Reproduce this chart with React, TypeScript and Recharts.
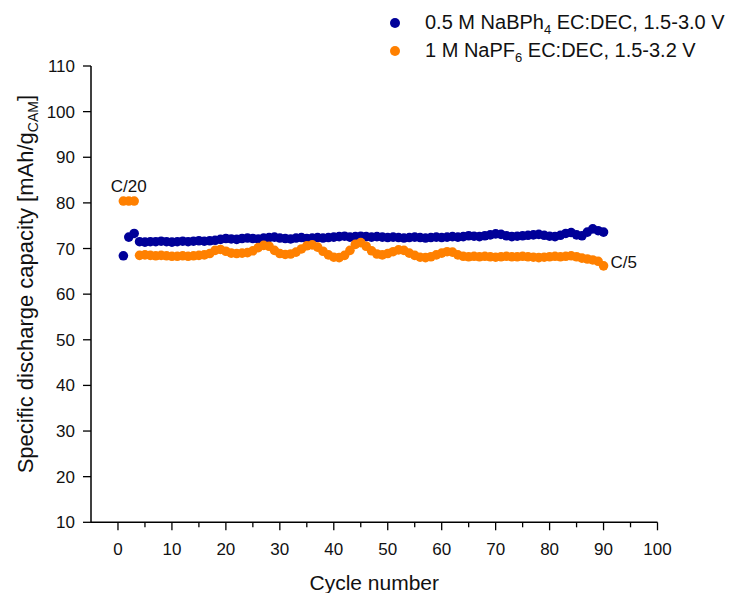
import { ScatterChart, Scatter, XAxis, YAxis, ReferenceDot } from "recharts";

// cycle numbers 1..90
const cycles: number[] = Array.from({ length: 90 }, (_, i) => i + 1);

// 0.5 M NaBPh4 EC:DEC, 1.5-3.0 V
const naBPh4: number[] = [
  68.4, 72.5, 73.3,
  71.5, 71.4, 71.5, 71.5, 71.6, 71.5, 71.4, 71.5, 71.6, 71.5, 71.6, 71.7, 71.6, 71.7, 71.8,
  72.0, 72.2, 72.1, 72.0, 72.2, 72.3, 72.2, 72.1, 72.3, 72.4,
  72.5, 72.3, 72.2, 72.1, 72.3, 72.4, 72.2, 72.3, 72.4, 72.3, 72.4, 72.5,
  72.6, 72.7, 72.5, 72.6, 72.7, 72.6, 72.5, 72.6, 72.5, 72.4,
  72.5, 72.4, 72.3, 72.4, 72.5, 72.4, 72.3, 72.4, 72.5, 72.4, 72.5, 72.6, 72.5,
  72.6, 72.8, 72.7, 72.6, 72.8, 73.0, 73.2, 73.1, 72.8, 72.6, 72.7, 72.8,
  72.9, 73.0, 73.1, 72.9, 72.7, 72.6, 72.9, 73.3, 73.5, 73.0, 72.8, 73.6, 74.3, 73.9, 73.6,
];

// 1 M NaPF6 EC:DEC, 1.5-3.2 V
const naPF6: number[] = [
  80.4, 80.4, 80.4,
  68.5, 68.6, 68.5, 68.4, 68.5, 68.4, 68.3, 68.3, 68.4, 68.3, 68.4, 68.5, 68.6, 68.9,
  69.6, 69.8, 69.4, 69.0, 68.9, 69.0, 69.1, 69.5, 70.2,
  70.7, 70.5, 69.6, 68.9, 68.7, 68.8, 69.2, 69.9, 70.6,
  70.8, 70.3, 69.4, 68.6, 68.1, 68.0, 68.5, 69.6, 70.9,
  71.3, 70.5, 69.5, 68.8, 68.6, 68.9, 69.3, 69.7, 69.6,
  69.0, 68.5, 68.1, 68.0, 68.2, 68.6, 69.0, 69.3, 69.2, 68.6,
  68.3, 68.2, 68.3, 68.2, 68.3, 68.2, 68.1, 68.2, 68.3, 68.2, 68.2, 68.3, 68.2, 68.1, 68.0, 68.1, 68.2, 68.3, 68.2, 68.3, 68.4,
  68.2, 67.9, 67.7, 67.5, 67.2, 66.2,
];

const xTicks = [0, 5, 10, 15, 20, 25, 30, 35, 40, 45, 50, 55, 60, 65, 70, 75, 80, 85, 90, 95, 100];
const yTicks = [10, 15, 20, 25, 30, 35, 40, 45, 50, 55, 60, 65, 70, 75, 80, 85, 90, 95, 100, 105, 110];

const BLUE = "#000099";
const ORANGE = "#ff8000";

const blueData = cycles.map((c, i) => ({ cycle: c, cap: naBPh4[i] }));
const orangeData = cycles.map((c, i) => ({ cycle: c, cap: naPF6[i] }));

const XTick = ({ x, y, payload }: any) => {
  const major = payload.value % 10 === 0;
  return (
    <g>
      <line x1={x} x2={x} y1={y} y2={y + (major ? 8 : 5)} stroke="#000" strokeWidth={1.3} />
      {major && (
        <text x={x} y={y + 33} textAnchor="middle" fontSize={17} fill="#111">
          {payload.value}
        </text>
      )}
    </g>
  );
};

const YTick = ({ x, y, payload }: any) => {
  const major = payload.value % 10 === 0;
  return (
    <g>
      <line x1={x} x2={x - (major ? 8 : 5)} y1={y} y2={y} stroke="#000" strokeWidth={1.3} />
      {major && (
        <text x={x - 16} y={y + 6} textAnchor="end" fontSize={17} fill="#111">
          {payload.value}
        </text>
      )}
    </g>
  );
};

const YTitle = ({ viewBox }: any) => {
  const cx = viewBox.x + 33;
  const cy = viewBox.y + viewBox.height / 2 - 10;
  return (
    <text
      x={cx}
      y={cy}
      transform={`rotate(-90 ${cx} ${cy})`}
      textAnchor="middle"
      fontSize={22}
      fill="#111"
    >
      Specific discharge capacity [mAh/g
      <tspan dy={5} fontSize={14}>CAM</tspan>
      <tspan dy={-5}>]</tspan>
    </text>
  );
};

const dot = (color: string) => (props: any) =>
  <circle cx={props.cx} cy={props.cy} r={4.8} fill={color} />;

export default function App() {
  return (
    <div
      style={{
        position: "absolute",
        left: 0,
        top: 0,
        width: 745,
        height: 593,
        background: "#fff",
        fontFamily: "'Liberation Sans', Arial, sans-serif",
      }}
    >
      <ScatterChart
        width={745}
        height={593}
        margin={{ top: 66, right: 87.5, left: 0, bottom: 0 }}
      >
        <XAxis
          type="number"
          dataKey="cycle"
          domain={[-5, 100]}
          ticks={xTicks}
          allowDataOverflow
          height={70.7}
          tickSize={0}
          tickMargin={0}
          tickLine={false}
          tick={<XTick />}
          axisLine={{ stroke: "#000", strokeWidth: 1.5 }}
          label={{ value: "Cycle number", position: "insideBottom", offset: 3, fontSize: 21, fill: "#111" }}
        />
        <YAxis
          type="number"
          dataKey="cap"
          domain={[10, 110]}
          ticks={yTicks}
          allowDataOverflow
          width={91}
          tickSize={0}
          tickMargin={0}
          tickLine={false}
          tick={<YTick />}
          axisLine={{ stroke: "#000", strokeWidth: 1.5 }}
          label={<YTitle />}
        />
        <Scatter data={blueData} fill={BLUE} shape={dot(BLUE)} isAnimationActive={false} />
        <Scatter data={orangeData} fill={ORANGE} shape={dot(ORANGE)} isAnimationActive={false} />
        <ReferenceDot
          x={2}
          y={80.4}
          r={0}
          fill="none"
          stroke="none"
          label={{ value: "C/20", position: "top", offset: 9, fontSize: 17, fill: "#111" }}
        />
        <ReferenceDot
          x={90}
          y={66.2}
          r={0}
          fill="none"
          stroke="none"
          label={{ value: "C/5", position: "right", offset: 7, dy: -4, fontSize: 17, fill: "#111" }}
        />
      </ScatterChart>

      {/* legend */}
      <div style={{ position: "absolute", left: 390, top: 18, width: 10, height: 10, borderRadius: "50%", background: BLUE }} />
      <div style={{ position: "absolute", left: 425, top: 10, fontSize: 20, lineHeight: "24px", color: "#111", whiteSpace: "nowrap" }}>
        0.5 M NaBPh<sub style={{ fontSize: 13, verticalAlign: -5 }}>4</sub> EC:DEC, 1.5-3.0 V
      </div>
      <div style={{ position: "absolute", left: 390, top: 46, width: 10, height: 10, borderRadius: "50%", background: ORANGE }} />
      <div style={{ position: "absolute", left: 425, top: 38, fontSize: 20, lineHeight: "24px", color: "#111", whiteSpace: "nowrap" }}>
        1 M NaPF<sub style={{ fontSize: 13, verticalAlign: -5 }}>6</sub> EC:DEC, 1.5-3.2 V
      </div>
    </div>
  );
}
